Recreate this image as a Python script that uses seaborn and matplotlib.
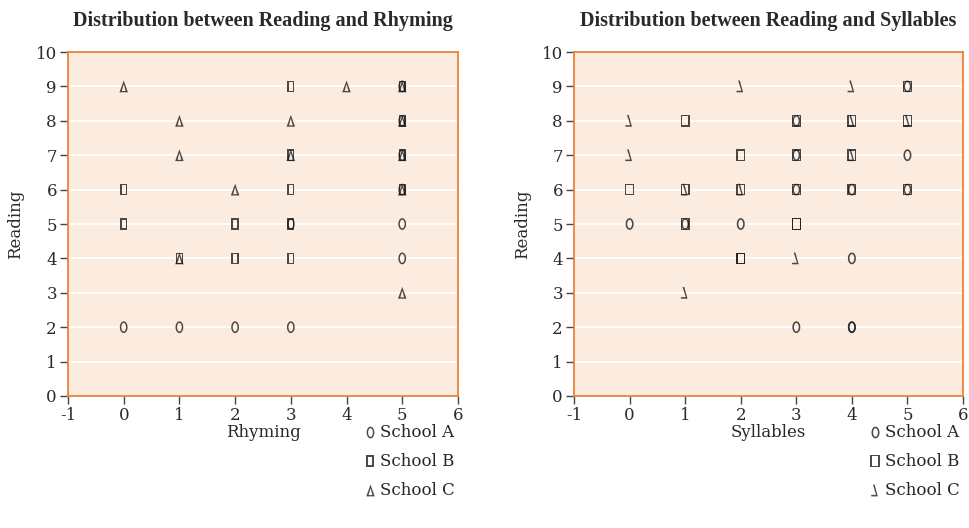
import matplotlib
matplotlib.use("Agg")
import matplotlib.pyplot as plt
from matplotlib.path import Path
import numpy as np
import seaborn as sns
import pandas as pd

# ---- data ----
schools = ["School A", "School B", "School C"]

rhy_A_x = [0, 1, 2, 3, 3, 5, 5, 5, 5, 5, 5]
rhy_A_y = [2, 2, 2, 2, 5, 4, 5, 6, 7, 8, 9]
rhy_B_x = [0, 0, 1, 2, 2, 3, 3, 3, 3, 3, 5, 5, 5, 5]
rhy_B_y = [6, 5, 4, 5, 4, 9, 7, 6, 5, 4, 6, 7, 8, 9]
rhy_C_x = [0, 1, 1, 1, 2, 3, 3, 4, 5, 5, 5, 5, 5]
rhy_C_y = [9, 8, 7, 4, 6, 8, 7, 9, 3, 6, 7, 8, 9]

syl_A_x = [0, 1, 2, 3, 3, 3, 3, 4, 4, 4, 4, 5, 5, 5]
syl_A_y = [5, 5, 5, 2, 6, 7, 8, 2, 2, 4, 6, 6, 7, 9]
syl_B_x = [0, 1, 1, 1, 2, 2, 2, 2, 3, 3, 3, 3, 3, 4, 4, 4, 5, 5, 5]
syl_B_y = [6, 5, 6, 8, 4, 4, 6, 7, 5, 5, 6, 7, 8, 6, 7, 8, 6, 8, 9]
syl_C_x = [0, 0, 1, 1, 2, 2, 3, 4, 4, 4, 5]
syl_C_y = [7, 8, 3, 6, 6, 9, 4, 7, 8, 9, 8]

titles = ["Distribution between Reading and Rhyming",
          "Distribution between Reading and Syllables"]
xlabels = ["Rhyming", "Syllables"]
ylabel = "Reading"
xticks = [-1, 0, 1, 2, 3, 4, 5, 6]
yticks = list(range(0, 11))


def build(ax_, ay_, bx_, by_, cx_, cy_, xname):
    rows = []
    for s, xs, ys in zip(schools, [ax_, bx_, cx_], [ay_, by_, cy_]):
        for x, y in zip(xs, ys):
            rows.append({xname: x, ylabel: y, "School": s})
    return pd.DataFrame(rows)


df_rhy = build(rhy_A_x, rhy_A_y, rhy_B_x, rhy_B_y, rhy_C_x, rhy_C_y, "Rhyming")
df_syl = build(syl_A_x, syl_A_y, syl_B_x, syl_B_y, syl_C_x, syl_C_y, "Syllables")


# ---- glyph-like marker shapes (outline rings built as compound paths) ----
def ring(outer, inner):
    outer = list(outer)
    inner = list(inner)[::-1]
    verts = outer + [outer[0]] + inner + [inner[0]]
    codes = ([Path.MOVETO] + [Path.LINETO] * (len(outer) - 1) + [Path.CLOSEPOLY] +
             [Path.MOVETO] + [Path.LINETO] * (len(inner) - 1) + [Path.CLOSEPOLY])
    return Path(verts, codes)


def ellipse_ring(a, b, t):
    th = np.linspace(0, 2 * np.pi, 40, endpoint=False)
    outer = [(a * np.cos(v), b * np.sin(v)) for v in th]
    inner = [((a - t) * np.cos(v), (b - t) * np.sin(v)) for v in th]
    return ring(outer, inner)


def rect_ring(w, h, t):
    outer = [(-w, -h), (w, -h), (w, h), (-w, h)]
    inner = [(-w + t, -h + t), (w - t, -h + t), (w - t, h - t), (-w + t, h - t)]
    return ring(outer, inner)


def tri_ring(w, h, t):
    outer = [(-w, -h), (w, -h), (0, h)]
    inner = [(-w + 1.8 * t, -h + t), (w - 1.8 * t, -h + t), (0, h - 2.8 * t)]
    return ring(outer, inner)


rev_L = Path([(-0.22, 0.5), (-0.08, 0.5), (0.2, -0.5), (-0.36, -0.5),
              (-0.36, -0.37), (0.05, -0.37), (-0.22, 0.5)],
             [Path.MOVETO] + [Path.LINETO] * 5 + [Path.CLOSEPOLY])

markers_left = {"School A": ellipse_ring(0.33, 0.5, 0.13),
                "School B": rect_ring(0.28, 0.45, 0.12),
                "School C": tri_ring(0.36, 0.5, 0.11)}
markers_right = {"School A": ellipse_ring(0.32, 0.47, 0.13),
                 "School B": rect_ring(0.37, 0.48, 0.11),
                 "School C": rev_L}

# ---- style ----
sns.set_theme(style="white")
plt.rcParams["font.family"] = ["DejaVu Serif"]

BG = "#FCEBDF"
EDGE = "#EB8236"
INK = "#2a2a2a"

fig = plt.figure(figsize=(9.7, 5.28), dpi=100)
axL = fig.add_axes([0.0701, 0.25, 0.402, 0.6515])
axR = fig.add_axes([0.5918, 0.25, 0.401, 0.6515])

for ax, df, xname, mk, title, xl in [
    (axL, df_rhy, "Rhyming", markers_left, titles[0], xlabels[0]),
    (axR, df_syl, "Syllables", markers_right, titles[1], xlabels[1]),
]:
    ax.set_facecolor(BG)
    sns.scatterplot(data=df, x=xname, y=ylabel, style="School",
                    style_order=schools, markers=mk, color="#1e1e1e",
                    s=72, linewidth=0, alpha=0.8, ax=ax, zorder=3)
    ax.set_xlim(-1, 6)
    ax.set_ylim(0, 10)
    ax.set_xticks(xticks)
    ax.set_xticklabels([str(t) for t in xticks])
    ax.set_yticks(yticks)
    ax.yaxis.grid(True, color="white", linewidth=1.2, zorder=0)
    ax.xaxis.grid(False)
    ax.set_axisbelow(True)
    for sp in ax.spines.values():
        sp.set_color(EDGE)
        sp.set_linewidth(1.3)
    ax.tick_params(axis="both", direction="out", length=6, width=1,
                   color="#444444", labelsize=12, labelcolor=INK,
                   bottom=True, left=True, pad=2)
    ax.set_title(title, fontsize=14.5, fontweight="bold", color=INK, pad=19,
                 family=["Liberation Serif", "DejaVu Serif"])
    ax.set_ylabel(ylabel, fontsize=12, color=INK, labelpad=8)
    ax.set_xlabel(xl, fontsize=12, color=INK, labelpad=0)
    sns.move_legend(ax, loc="upper right", bbox_to_anchor=(1.01, -0.063),
                    frameon=False, title=None, fontsize=12,
                    handletextpad=0.1, labelspacing=0.72, markerscale=1.0,
                    borderaxespad=0, handlelength=1.0)

fig.savefig("out.png", dpi=100, facecolor="white")
